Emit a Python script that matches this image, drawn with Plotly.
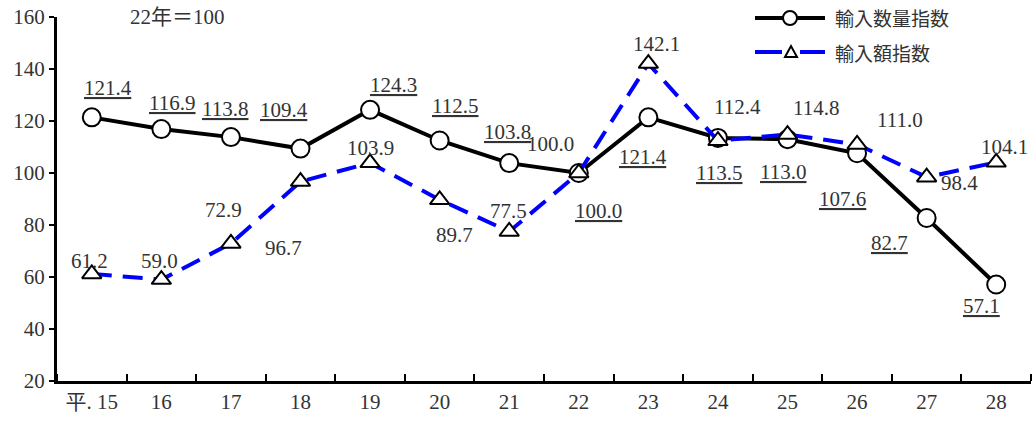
import plotly.graph_objects as go

categories = ["平. 15", "16", "17", "18", "19", "20", "21", "22", "23", "24", "25", "26", "27", "28"]
quantity_index = [121.4, 116.9, 113.8, 109.4, 124.3, 112.5, 103.8, 100.0, 121.4, 113.5, 113.0, 107.6, 82.7, 57.1]
value_index = [61.2, 59.0, 72.9, 96.7, 103.9, 89.7, 77.5, 100.0, 142.1, 112.4, 114.8, 111.0, 98.4, 104.1]
y_ticks = [20, 40, 60, 80, 100, 120, 140, 160]
series_names = ["輸入数量指数", "輸入額指数"]

# label offsets in pixels (dx, dy downward positive)
q_off = [(16, -29), (11, -26), (-6, -28), (-17, -39), (23, -25), (15, -35), (-2, -31),
         (20, 38), (-5, 40), (1, 35), (-5, 33), (-15, 46), (-37, 25), (-15, 21)]
v_off = [(-2, -13), (-2, -19), (-7, -33), (-17, 66), (0, -15), (15, 35), (-1, -21),
         (-28, -29), (8, -20), (20, -34), (28, -27), (43, -24), (33, 6), (8, -15)]

FONT = "Liberation Serif, Noto Sans CJK JP, serif"
SANS = "Noto Sans CJK JP, sans-serif"
TXT = "#333"
BLUE = "#0000ff"
x_idx = list(range(len(categories)))

W, H = 1036, 424
ML, MR, MT, MB = 57, 5, 17, 43
PW, PH = W - ML - MR, H - MT - MB


def px(x):
    return (x - ML) / PW


def py(y):
    return (H - MB - y) / PH


fig = go.Figure()
fig.add_trace(go.Scatter(
    x=x_idx, y=quantity_index, mode="lines+markers", name=series_names[0],
    line=dict(color="black", width=4),
    marker=dict(symbol="circle", size=18, color="white", line=dict(color="black", width=2)),
    cliponaxis=False,
))
fig.add_trace(go.Scatter(
    x=x_idx, y=value_index, mode="lines+markers", name=series_names[1],
    line=dict(color=BLUE, width=4, dash="20px,11px"),
    marker=dict(symbol="triangle-up", size=17, color="white", line=dict(color="black", width=2)),
    cliponaxis=False,
))

anns = []
for i, (v, (dx, dy)) in enumerate(zip(quantity_index, q_off)):
    anns.append(dict(x=i, y=v, xref="x", yref="y", text=f"<u>{v:.1f}</u>", showarrow=False,
                     xshift=dx, yshift=-dy, font=dict(family=FONT, size=21, color=TXT)))
for i, (v, (dx, dy)) in enumerate(zip(value_index, v_off)):
    anns.append(dict(x=i, y=v, xref="x", yref="y", text=f"{v:.1f}", showarrow=False,
                     xshift=dx, yshift=-dy, font=dict(family=FONT, size=21, color=TXT)))
anns.append(dict(x=px(177), y=1.0, xref="paper", yref="paper", xanchor="center",
                 yanchor="middle", text="22年＝100", showarrow=False,
                 font=dict(family=FONT, size=21, color=TXT)))

# custom legend (longer sample lines, as in the reference)
shapes = []
rows = [18, 52]
for name, ry in zip(series_names, rows):
    anns.append(dict(x=px(833), y=py(ry), xref="paper", yref="paper", xanchor="left",
                     yanchor="middle", text=name, showarrow=False,
                     font=dict(family=SANS, size=19, color=TXT)))
# row 1: solid black line with circle
shapes.append(dict(type="line", xref="paper", yref="paper", x0=px(755), x1=px(825),
                   y0=py(rows[0]), y1=py(rows[0]), line=dict(color="black", width=4)))
shapes.append(dict(type="circle", xref="paper", yref="paper", xsizemode="pixel", ysizemode="pixel",
                   xanchor=px(790), yanchor=py(rows[0]), x0=-7, x1=7, y0=-7, y1=7,
                   fillcolor="white", line=dict(color="black", width=2)))
# row 2: blue dashed line with triangle
shapes.append(dict(type="line", xref="paper", yref="paper", x0=px(755), x1=px(782),
                   y0=py(rows[1]), y1=py(rows[1]), line=dict(color=BLUE, width=4)))
shapes.append(dict(type="line", xref="paper", yref="paper", x0=px(800), x1=px(825),
                   y0=py(rows[1]), y1=py(rows[1]), line=dict(color=BLUE, width=4)))
shapes.append(dict(type="path", xref="paper", yref="paper", xsizemode="pixel", ysizemode="pixel",
                   xanchor=px(791), yanchor=py(rows[1]), path="M -6 -5 L 6 -5 L 0 6 Z",
                   fillcolor="white", line=dict(color="black", width=2)))

fig.update_layout(
    width=W, height=H,
    margin=dict(l=ML, r=MR, t=MT, b=MB, autoexpand=False),
    paper_bgcolor="white", plot_bgcolor="white",
    showlegend=False,
    font=dict(family=FONT, size=21, color=TXT),
    annotations=anns, shapes=shapes,
)

fig.update_xaxes(
    tickmode="array", tickvals=x_idx, ticktext=categories,
    range=[-0.5, len(categories) - 0.5], automargin=False,
    showline=True, linecolor="black", linewidth=3,
    ticks="", showgrid=False, zeroline=False,
    tickfont=dict(family=FONT, size=21, color=TXT),
    minor=dict(tickvals=[i + 0.5 for i in range(-1, len(categories))], ticks="inside",
               ticklen=7, tickwidth=2, tickcolor="black"),
)
fig.update_yaxes(
    range=[20, 160], tickvals=y_ticks, automargin=False,
    showline=True, linecolor="black", linewidth=3,
    ticks="outside", ticklen=5, tickwidth=2, tickcolor="black",
    showgrid=False, zeroline=False,
    tickfont=dict(family=FONT, size=21, color=TXT),
)

fig.write_html("out.html", config={"displayModeBar": False},
               post_script="document.body.style.margin='0';document.body.style.overflow='hidden';")
